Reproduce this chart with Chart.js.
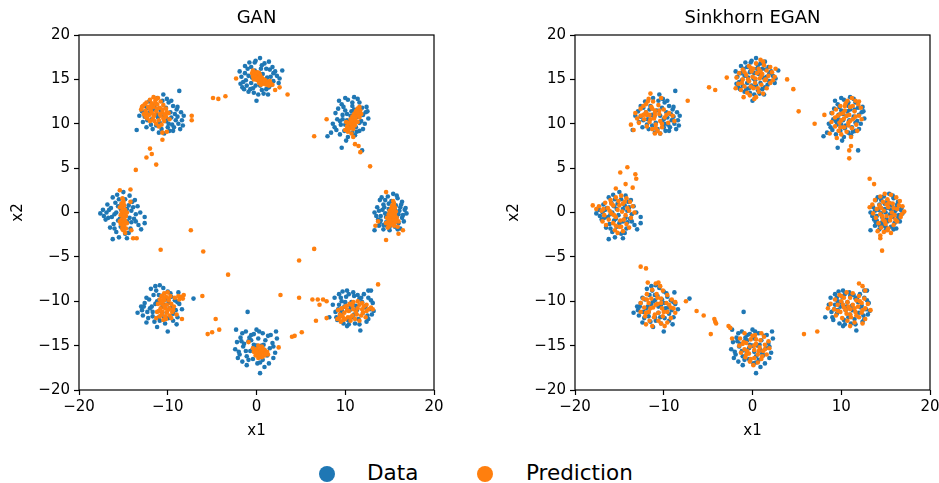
<!DOCTYPE html>
<html><head><meta charset="utf-8">
<script src="https://cdn.jsdelivr.net/npm/chart.js@4.4.1/dist/chart.umd.min.js"></script>
<style>
html,body{margin:0;padding:0;width:939px;height:483px;overflow:hidden;background:#fff;font-family:"DejaVu Sans",sans-serif;}
#c1{position:absolute;left:0;top:0;}
#c2{position:absolute;left:496px;top:0;}
.dot{position:absolute;width:16px;height:16px;border-radius:50%;}
.lt{position:absolute;top:458px;font-size:21.5px;color:#000;line-height:30px;white-space:nowrap;}
</style></head>
<body>
<canvas id="c1" width="470" height="450"></canvas>
<canvas id="c2" width="470" height="450"></canvas>
<div class="dot" style="left:319px;top:466px;background:#1f77b4"></div>
<div class="lt" style="left:367px">Data</div>
<div class="dot" style="left:477px;top:466px;background:#ff7f0e"></div>
<div class="lt" style="left:526px">Prediction</div>
<script>
const panelTitles = ['GAN', 'Sinkhorn EGAN'];
const seriesNames = ['Data', 'Prediction'];
const xTickValues = [-20, -10, 0, 10, 20];
const yTickValues = [-20, -15, -10, -5, 0, 5, 10, 15, 20];

// Real samples (same in both panels)
const dataXY = [
[0.4,17.4],[1.4,17.0],[0.9,16.8],[-0.2,16.9],[-0.6,16.4],[-1.0,16.2],[-1.3,15.7],[-1.7,15.3],[-1.5,14.7],[-1.1,14.3],[-0.7,13.9],[-0.3,13.5],[0.2,13.3],[0.0,12.6],[0.8,13.4],[1.1,13.9],[1.7,14.4],[1.9,14.8],[2.3,15.4],[2.9,16.0],[2.1,15.9],[1.5,16.1],[1.1,16.2],[0.5,16.2],[-0.3,15.8],[-1.2,14.9],[-1.6,14.1],[-0.9,13.6],[0.9,14.6],[0.3,14.9],[-0.5,15.2],[-0.1,14.3],[0.6,13.8],[1.6,15.3],[-1.9,15.9],[-0.8,16.9],[1.8,16.4],[0.2,15.7],[-1.4,13.9],[1.3,13.3],[2.5,14.6],
[-8.7,13.7],[-10.5,13.3],[-11.2,12.9],[-12.1,12.5],[-12.6,12.0],[-12.9,11.4],[-13.2,10.9],[-12.8,10.2],[-13.5,9.3],[-12.4,9.6],[-11.7,9.4],[-11.0,9.0],[-10.4,8.9],[-9.8,9.2],[-9.3,9.6],[-8.8,10.0],[-8.4,10.4],[-8.2,10.9],[-8.5,11.3],[-9.0,11.6],[-9.4,12.0],[-9.9,12.4],[-10.2,11.8],[-10.8,11.5],[-11.3,11.0],[-11.8,10.5],[-10.9,10.1],[-10.2,10.3],[-9.6,10.7],[-9.1,10.4],[-9.5,9.9],[-10.0,9.6],[-11.3,9.8],[-12.0,11.3],[-11.5,12.0],[-8.9,11.9],[-9.7,11.3],[-10.6,12.6],[-12.3,10.4],[-8.6,9.4],
[11.0,13.0],[10.3,12.7],[11.6,12.4],[9.6,12.2],[10.8,12.0],[11.9,11.8],[9.2,11.7],[10.0,11.5],[12.3,11.3],[8.9,11.2],[9.7,11.0],[10.6,10.9],[11.4,10.8],[12.6,10.6],[9.1,10.5],[10.2,10.4],[11.8,10.3],[8.6,10.0],[9.5,9.9],[10.5,9.8],[11.2,9.6],[12.0,9.4],[9.0,9.3],[9.9,9.2],[10.8,9.0],[8.0,8.6],[9.4,8.8],[10.3,8.5],[11.1,8.7],[9.6,7.3],[11.9,7.0],[10.1,8.1],[12.2,10.0],[11.5,11.6],[10.0,12.9],[8.4,9.0],[9.3,12.6],[12.4,11.9],[10.7,11.4],[11.3,9.1],
[15.4,2.1],[14.8,1.8],[15.9,1.6],[13.9,1.4],[15.2,1.3],[16.4,1.2],[14.3,0.9],[15.7,0.8],[13.6,0.6],[16.8,0.5],[14.9,0.4],[16.1,0.2],[13.3,0.0],[14.5,-0.1],[15.5,-0.2],[16.9,-0.1],[14.0,-0.4],[16.4,-0.6],[13.7,-0.8],[15.1,-0.7],[14.6,-1.1],[16.0,-1.2],[13.8,-1.5],[15.6,-1.6],[14.3,-1.9],[13.3,-2.0],[15.0,-2.0],[16.2,-1.8],[14.9,1.0],[16.6,-1.0],[14.2,0.3],[15.8,-0.5],[13.9,-1.1],[14.7,-1.5],[16.3,0.9],[15.3,0.5],[14.1,1.7],[15.9,-1.9],[13.5,-0.4],[16.7,0.3],
[-15.0,2.3],[-15.7,2.0],[-14.3,1.9],[-16.2,1.7],[-14.8,1.5],[-13.7,1.4],[-15.9,1.1],[-16.8,0.9],[-14.4,0.8],[-13.4,0.7],[-16.4,0.5],[-15.3,0.4],[-17.3,0.3],[-14.1,0.2],[-13.1,0.0],[-17.6,-0.1],[-16.0,-0.2],[-15.1,-0.3],[-12.6,-0.5],[-16.7,-0.6],[-13.8,-0.7],[-15.6,-0.9],[-14.6,-1.0],[-12.6,-1.2],[-16.1,-1.3],[-13.3,-1.4],[-15.3,-1.6],[-16.5,-1.7],[-14.2,-1.8],[-13.0,-1.9],[-15.8,-2.2],[-14.8,-2.4],[-16.2,-3.0],[-15.5,-2.8],[-16.9,0.0],[-14.0,1.2],[-15.4,-0.7],[-13.6,-0.2],[-17.0,-0.8],[-14.6,-2.9],
[-10.9,-8.2],[-10.5,-8.5],[-11.3,-8.8],[-10.0,-8.9],[-8.8,-9.0],[-11.6,-9.3],[-10.7,-9.4],[-9.6,-9.5],[-12.1,-9.8],[-11.0,-9.9],[-9.2,-9.9],[-7.1,-9.7],[-12.6,-10.2],[-11.4,-10.3],[-10.3,-10.4],[-8.7,-10.3],[-13.0,-10.6],[-12.0,-10.8],[-9.8,-10.8],[-8.4,-10.9],[-13.4,-11.3],[-11.7,-11.2],[-10.6,-11.3],[-9.4,-11.4],[-12.8,-11.6],[-12.2,-11.9],[-11.0,-11.8],[-9.9,-11.9],[-8.9,-11.8],[-12.4,-12.4],[-11.5,-12.3],[-10.3,-12.5],[-9.4,-12.2],[-11.2,-12.9],[-10.0,-13.4],[-12.9,-11.0],[-11.9,-8.6],[-9.0,-12.6],[-10.2,-9.8],[-11.8,-10.6],
[0.0,-13.2],[-2.3,-13.2],[-1.2,-13.4],[0.7,-13.6],[2.2,-13.4],[-0.6,-13.8],[1.3,-13.9],[-1.8,-14.1],[0.2,-14.2],[1.0,-14.4],[-2.2,-14.6],[-0.9,-14.5],[1.8,-14.7],[-0.3,-14.9],[0.6,-15.0],[-1.5,-15.1],[-2.4,-15.4],[1.5,-15.3],[-0.7,-15.6],[0.2,-15.7],[2.1,-15.8],[-1.9,-16.0],[-1.1,-16.2],[1.2,-16.1],[-0.4,-16.5],[0.7,-16.6],[-1.6,-16.8],[0.1,-17.0],[-1.1,-17.2],[1.4,-17.0],[0.4,-18.1],[-1.0,-11.2],[-0.3,-13.7],[1.9,-16.4],[-2.0,-15.7],[0.9,-15.5],[-0.8,-14.1],[1.6,-13.8],[-1.4,-14.8],[0.4,-16.9],
[9.7,-8.9],[10.2,-8.8],[10.9,-9.0],[12.6,-8.8],[12.9,-8.8],[9.3,-9.2],[11.4,-9.3],[12.1,-9.2],[8.8,-9.6],[10.1,-9.5],[11.6,-9.7],[12.6,-9.6],[9.6,-10.0],[10.7,-10.1],[13.1,-10.2],[8.6,-10.4],[9.9,-10.6],[11.2,-10.5],[12.3,-10.5],[9.2,-10.9],[10.5,-11.0],[12.8,-10.9],[13.2,-11.1],[8.2,-11.8],[9.5,-11.4],[11.0,-11.5],[12.0,-11.3],[9.0,-11.8],[10.3,-12.1],[11.5,-12.0],[12.6,-12.0],[9.8,-12.5],[10.2,-12.8],[11.1,-12.5],[12.4,-12.3],[11.7,-13.3],[9.1,-12.1],[12.9,-9.9],[10.4,-9.2],[11.9,-10.1]
];
const dataCoreXY = [
[0.1,15.1],[-0.6,14.6],[0.7,15.6],[-0.9,15.4],[1.2,15.2],[0.4,14.3],[-0.2,16.0],[1.9,15.7],[-1.3,16.5],[0.6,16.6],[-0.4,14.0],[1.4,14.1],[-1.8,14.5],[2.6,15.1],[-0.1,17.1],
[-10.4,10.9],[-11.1,10.7],[-9.9,10.0],[-10.7,9.4],[-12.6,10.8],[-11.9,9.9],[-9.2,11.1],[-10.1,12.8],[-8.9,10.8],[-9.4,9.2],[-11.6,11.6],[-12.3,11.8],[-10.0,10.5],[-9.6,12.6],[-8.3,9.8],
[10.2,11.1],[10.9,10.4],[9.7,10.5],[11.0,11.6],[10.4,9.5],[11.6,10.1],[9.4,10.3],[10.8,12.4],[12.0,11.0],[9.8,11.9],[8.8,9.6],[11.4,12.8],[10.0,9.9],[12.5,11.4],[11.6,9.2],
[15.0,0.0],[14.4,0.6],[15.6,0.3],[15.2,-1.0],[14.6,-0.5],[16.0,-0.2],[15.5,1.0],[14.0,-0.9],[15.8,1.9],[16.5,-0.3],[14.5,1.4],[13.8,0.2],[15.0,-1.6],[16.2,0.6],[14.3,-1.4],
[-15.2,1.0],[-14.6,0.4],[-15.8,0.0],[-14.3,-0.6],[-16.3,-0.5],[-15.0,-1.2],[-14.1,-1.1],[-16.6,0.3],[-15.5,1.5],[-13.9,0.6],[-16.0,-1.8],[-14.4,-2.3],[-13.6,-1.0],[-17.2,-0.4],[-15.6,0.7],
[-10.6,-10.6],[-11.2,-10.0],[-9.9,-10.2],[-10.4,-11.8],[-11.7,-11.7],[-9.5,-10.7],[-12.4,-9.6],[-11.0,-9.3],[-9.1,-11.0],[-12.3,-11.2],[-10.9,-12.2],[-9.7,-9.1],[-12.7,-10.6],[-11.4,-8.3],[-8.9,-10.1],
[0.0,-15.0],[-0.6,-14.4],[0.8,-14.9],[-1.2,-15.6],[0.4,-16.2],[1.1,-15.9],[-0.4,-15.3],[-1.7,-14.5],[1.9,-15.1],[-0.9,-16.6],[0.9,-17.4],[-1.6,-13.6],[0.3,-13.4],[2.3,-14.2],[-2.1,-16.4],
[10.6,-10.6],[11.3,-11.0],[10.0,-10.1],[9.6,-11.0],[11.8,-9.6],[12.2,-10.7],[10.8,-11.8],[9.3,-10.4],[11.0,-9.4],[12.5,-11.6],[10.4,-12.6],[8.9,-11.2],[11.6,-12.6],[9.5,-9.6],[13.0,-11.5]
];

// GAN generator samples
const ganXY = [
[-0.4,16.0],[-0.2,15.8],[0.0,15.6],[0.2,15.5],[0.4,15.3],[0.6,15.2],[0.8,15.0],[1.0,14.9],[1.3,14.7],[1.6,14.5],[1.8,14.4],[-0.3,15.5],[-0.1,15.2],[0.1,14.9],[0.3,14.6],[0.5,14.4],[0.8,14.5],[1.1,14.4],[1.4,14.3],[0.2,15.0],[0.5,14.8],[0.7,14.7],[0.0,15.3],[-0.3,15.0],[0.9,14.6],[1.5,14.8],[-0.5,15.7],[0.3,15.7],
[-2.3,15.1],[2.1,13.8],[2.6,14.1],[3.5,13.3],
[-11.6,13.0],[-11.1,12.9],[-12.0,12.7],[-11.4,12.6],[-10.8,12.5],[-12.4,12.4],[-11.8,12.3],[-11.2,12.2],[-10.5,12.1],[-12.8,12.0],[-12.2,11.9],[-11.6,11.9],[-10.9,11.8],[-10.2,11.7],[-13.0,11.6],[-12.5,11.5],[-11.9,11.5],[-11.3,11.4],[-10.6,11.3],[-9.9,11.2],[-12.7,11.1],[-12.1,11.0],[-11.5,11.0],[-10.8,10.9],[-10.2,10.8],[-12.3,10.6],[-11.7,10.5],[-11.0,10.4],[-10.4,10.3],[-9.8,10.5],[-11.3,10.0],[-10.7,9.9],[-11.0,9.7],[-12.9,11.9],[-11.9,12.0],[-10.1,11.3],
[-7.3,10.9],[-7.3,10.4],[-10.6,9.0],[-10.1,9.1],[-10.6,8.2],[-12.0,7.2],[-11.8,6.6],[-12.4,6.2],[-11.3,5.4],[-13.6,4.8],[-4.9,12.9],[-4.3,12.8],[-3.5,13.1],
[11.6,11.9],[11.4,11.7],[11.7,11.5],[11.2,11.4],[11.5,11.2],[11.0,11.1],[11.3,10.9],[10.8,10.8],[11.6,10.7],[11.1,10.6],[10.6,10.5],[10.9,10.3],[11.4,10.2],[10.4,10.1],[10.7,9.9],[11.1,9.8],[10.2,9.7],[10.5,9.5],[10.9,9.4],[10.0,9.3],[10.3,9.1],[10.7,8.9],[11.8,11.1],[10.1,10.2],
[7.9,10.5],[6.5,8.6],[10.9,8.5],[11.1,7.7],[11.5,7.5],[11.7,6.8],[12.8,5.2],
[15.4,1.3],[15.5,1.0],[15.3,0.8],[15.6,0.6],[15.2,0.5],[15.5,0.3],[15.0,0.2],[15.7,0.1],[15.3,-0.1],[14.9,-0.2],[15.6,-0.3],[15.1,-0.5],[14.7,-0.6],[15.8,-0.6],[15.4,-0.8],[14.9,-0.9],[15.6,-1.1],[15.2,-1.2],[14.6,-1.2],[16.0,-1.0],[15.0,-1.5],[15.5,-1.5],[14.8,-1.7],[15.9,-1.6],
[14.6,2.3],[13.7,-1.0],[13.4,-1.5],[14.6,-3.1],[16.0,-2.4],[16.5,-2.0],
[-15.1,1.6],[-15.0,1.3],[-15.2,1.0],[-14.9,0.8],[-15.1,0.5],[-14.8,0.3],[-15.2,0.1],[-14.9,-0.1],[-15.3,-0.3],[-14.7,-0.4],[-15.0,-0.6],[-15.2,-0.8],[-14.8,-0.9],[-15.1,-1.1],[-14.6,-1.2],[-15.3,-1.3],[-14.9,-1.5],[-15.1,-1.7],[-14.7,-1.8],[-15.0,-2.0],[-14.8,-2.3],[-15.4,0.6],[-14.6,0.0],[-15.4,-1.0],
[-15.4,2.5],[-14.2,2.6],[-14.2,1.2],[-14.1,-2.0],[-13.9,-2.9],[-13.5,-2.9],
[-7.4,-2.0],[-10.8,-4.2],[-6.0,-4.4],[-3.2,-7.0],[4.8,-5.4],[6.5,-4.1],[2.7,-9.3],[4.8,-9.6],[6.3,-9.8],[6.9,-9.8],[7.5,-9.8],[7.9,-10.0],[7.1,-10.4],[6.7,-12.2],[7.9,-11.9],[13.7,-8.1],[-6.1,-9.4],[-4.6,-12.0],[-5.5,-13.7],[-5.0,-13.5],[-4.2,-13.2],[-0.9,-14.6],[2.5,-15.2],[4.0,-14.0],[4.3,-13.9],[5.1,-13.5],
[-10.4,-9.1],[-10.0,-9.0],[-10.7,-9.4],[-10.2,-9.5],[-9.7,-9.4],[-10.9,-9.8],[-10.4,-9.9],[-9.9,-9.9],[-11.1,-10.3],[-10.6,-10.3],[-10.1,-10.4],[-9.6,-10.3],[-10.8,-10.8],[-10.3,-10.8],[-9.8,-10.8],[-9.3,-10.6],[-11.2,-11.2],[-10.6,-11.2],[-10.1,-11.3],[-9.5,-11.2],[-10.9,-11.7],[-10.3,-11.7],[-9.8,-11.6],[-11.3,-11.9],[-10.5,-12.1],[-9.6,-11.9],[-9.0,-11.5],[-9.2,-9.6],[-8.8,-9.4],[-8.5,-9.5],[-8.2,-9.3],[-8.7,-9.8],[-8.3,-9.7],[-8.4,-12.0],
[0.2,-15.0],[0.6,-15.1],[0.0,-15.4],[0.4,-15.4],[0.9,-15.5],[-0.3,-15.7],[0.2,-15.8],[0.7,-15.8],[1.2,-15.7],[-0.1,-16.1],[0.4,-16.1],[0.9,-16.1],[0.2,-16.4],[0.6,-16.3],[1.3,-16.0],[-0.4,-15.3],
[9.2,-11.0],[9.6,-10.8],[10.0,-10.6],[10.5,-10.3],[10.9,-10.1],[11.4,-10.0],[11.9,-10.2],[12.4,-10.4],[12.9,-10.7],[9.4,-11.5],[9.9,-11.3],[10.4,-11.1],[10.9,-10.9],[11.4,-10.8],[11.9,-10.9],[12.4,-11.1],[9.3,-11.9],[9.8,-12.1],[10.3,-11.8],[10.8,-11.6],[11.3,-11.5],[11.8,-11.6],[12.3,-11.8],[9.5,-12.3],[10.6,-12.2],[11.1,-12.0],[11.6,-12.2],[9.1,-12.0],[13.1,-10.9],[10.2,-10.5]
];
const ganCoreXY = [
[0.0,15.0],[0.3,15.2],[0.6,14.9],[1.1,14.6],[0.4,15.5],[-0.2,15.4],[0.9,14.8],[1.2,14.5],[0.1,15.8],[-0.4,15.3],
[-11.4,12.3],[-12.0,11.7],[-11.2,11.7],[-10.6,11.6],[-12.4,11.2],[-11.6,10.8],[-10.5,10.6],[-12.0,10.3],[-11.3,12.8],[-12.6,12.2],[-10.9,11.1],[-11.8,11.2],[-10.3,11.0],[-11.5,10.3],[-12.5,10.8],
[11.3,11.5],[10.9,10.8],[11.2,10.3],[10.6,10.0],[10.4,9.4],[11.5,11.0],[10.8,9.6],[11.0,10.0],[10.7,10.4],[11.4,11.3],
[15.3,0.3],[15.4,-0.4],[15.0,-0.9],[15.4,-1.3],[15.2,-0.2],[15.5,0.6],[14.9,-1.3],[15.7,-0.9],
[-15.0,1.1],[-15.0,0.2],[-15.0,-0.4],[-14.9,-1.2],[-15.1,-1.9],[-15.2,0.7],[-14.9,-0.8],[-15.1,-1.4],
[-10.5,-9.6],[-10.8,-10.2],[-10.4,-10.5],[-10.0,-11.0],[-10.7,-11.5],[-9.9,-9.7],[-10.2,-12.0],[-11.0,-11.1],[-9.4,-11.0],[-10.6,-10.0],
[0.5,-15.7],[0.8,-15.4],[0.3,-16.0],[1.0,-15.9],[0.0,-15.7],
[10.2,-11.0],[10.8,-10.5],[11.6,-10.4],[12.1,-10.6],[10.6,-11.8],[11.2,-11.2],[12.0,-11.3],[9.7,-11.7],[10.0,-12.0],[12.6,-10.9]
];

// Sinkhorn EGAN generator samples
const sinkhornXY = [
[0.9,17.2],[0.4,16.8],[1.3,16.6],[-0.4,16.5],[2.0,16.4],[2.6,16.2],[0.7,16.2],[-1.1,16.1],[1.6,16.0],[-0.1,15.9],[2.2,15.8],[-1.5,15.7],[0.5,15.7],[1.1,15.6],[-0.7,15.5],[1.8,15.4],[0.0,15.3],[-1.8,15.2],[2.5,15.3],[0.8,15.1],[-1.1,15.0],[1.4,14.9],[-0.4,14.8],[0.3,14.6],[2.0,14.6],[-1.6,14.5],[1.0,14.4],[-0.9,14.2],[-1.9,14.0],[0.1,14.0],[1.6,14.0],[-1.3,13.8],[0.7,13.6],[-0.6,13.5],[-0.3,13.2],[0.4,13.0],[-1.0,13.0],[0.2,12.8],[1.2,13.4],[2.3,14.9],[-0.2,16.3],[1.2,17.0],
[-2.9,15.2],[-4.9,14.1],[-4.2,13.8],[-7.3,12.6],[3.9,15.0],[4.6,13.9],[5.2,11.4],[7.0,10.0],[8.1,11.0],
[-11.5,13.4],[-11.7,12.8],[-11.2,12.5],[-12.0,12.2],[-10.6,12.1],[-11.4,11.9],[-12.6,11.7],[-10.0,11.6],[-11.0,11.5],[-12.0,11.3],[-13.2,11.2],[-9.4,11.2],[-10.5,11.1],[-11.6,11.0],[-12.6,10.9],[-13.0,10.6],[-9.0,10.9],[-9.9,10.7],[-11.1,10.6],[-12.2,10.5],[-10.4,10.3],[-11.6,10.2],[-9.5,10.1],[-12.8,10.1],[-10.9,9.9],[-11.9,9.7],[-10.2,9.6],[-11.3,9.4],[-10.7,9.2],[-11.0,8.9],[-10.4,8.9],[-8.8,10.3],[-12.3,12.0],[-10.3,12.9],[-11.0,11.2],
[-13.4,9.3],[-13.7,9.9],
[11.2,12.9],[11.6,12.6],[10.5,12.3],[11.9,12.2],[9.9,12.0],[11.0,11.9],[12.2,11.8],[9.4,11.6],[10.4,11.5],[11.5,11.4],[9.0,11.2],[9.9,11.1],[10.9,11.0],[12.0,10.9],[9.3,10.7],[10.3,10.6],[11.3,10.5],[12.3,10.5],[8.9,10.2],[9.8,10.1],[10.8,10.1],[11.7,9.9],[9.3,9.7],[10.3,9.6],[11.2,9.5],[9.7,9.2],[10.6,9.1],[10.0,8.8],[8.7,8.9],[11.8,9.2],[12.0,12.5],[10.7,12.6],
[11.1,8.5],[11.1,7.5],[10.9,7.0],[10.9,6.1],[9.5,8.4],
[14.9,2.1],[15.6,2.0],[14.4,1.8],[16.2,1.7],[15.2,1.5],[13.8,1.4],[16.6,1.3],[14.7,1.2],[15.8,1.0],[13.5,0.9],[14.3,0.8],[16.9,0.7],[15.3,0.6],[14.0,0.4],[16.3,0.4],[14.8,0.2],[17.1,0.1],[15.7,0.0],[13.6,-0.1],[14.4,-0.2],[16.0,-0.3],[15.1,-0.4],[16.7,-0.5],[13.9,-0.6],[14.7,-0.8],[15.5,-0.9],[16.3,-1.0],[14.2,-1.2],[15.0,-1.3],[15.9,-1.4],[14.5,-1.7],[15.3,-1.8],[14.1,-2.1],[14.8,-2.2],[15.6,-2.3],[14.4,-2.6],[16.8,-0.2],[13.2,0.6],
[13.2,3.8],[13.7,3.2],[14.4,-2.9],[14.6,-4.3],
[-14.8,1.9],[-15.4,1.7],[-14.2,1.6],[-16.0,1.4],[-15.1,1.3],[-13.8,1.2],[-16.6,1.1],[-14.6,1.0],[-15.7,0.8],[-17.3,0.7],[-13.5,0.7],[-14.1,0.5],[-16.3,0.5],[-15.2,0.3],[-17.0,0.2],[-14.7,0.1],[-13.3,0.0],[-15.9,-0.1],[-16.7,-0.3],[-14.3,-0.3],[-15.4,-0.5],[-13.7,-0.6],[-16.2,-0.8],[-14.9,-0.9],[-15.7,-1.2],[-14.2,-1.3],[-16.5,-1.4],[-15.0,-1.6],[-13.9,-1.7],[-15.5,-2.0],[-14.6,-2.1],[-15.2,-2.3],[-17.6,0.4],[-16.9,-1.0],
[-18.0,0.8],[-14.1,5.1],[-14.9,4.5],[-13.2,4.3],[-13.1,3.8],[-14.3,3.2],[-13.5,2.8],[-15.4,2.7],
[-10.9,-8.0],[-10.4,-8.3],[-11.3,-8.7],[-10.1,-8.8],[-11.9,-9.2],[-10.8,-9.2],[-9.6,-9.3],[-12.3,-9.7],[-11.4,-9.7],[-10.3,-9.7],[-9.1,-9.8],[-12.6,-10.2],[-11.7,-10.2],[-10.7,-10.3],[-9.7,-10.2],[-8.7,-10.1],[-12.2,-10.7],[-11.2,-10.7],[-10.2,-10.8],[-9.2,-10.7],[-12.6,-11.2],[-11.7,-11.2],[-10.6,-11.3],[-9.6,-11.2],[-8.7,-11.3],[-12.1,-11.7],[-11.1,-11.8],[-10.1,-11.7],[-9.2,-11.9],[-11.6,-12.2],[-10.6,-12.2],[-9.6,-12.4],[-12.0,-12.6],[-11.3,-12.8],[-9.9,-12.8],[-8.9,-10.8],
[-12.6,-6.1],[-12.0,-6.3],[-11.8,-7.9],[-10.6,-7.9],[-7.5,-10.0],[-6.3,-11.1],[-5.5,-11.6],[-4.3,-12.0],[-4.2,-12.3],[-4.1,-12.5],[-4.7,-13.7],[-2.7,-12.8],[-2.5,-13.0],[-2.3,-14.2],
[-0.9,-13.6],[0.3,-13.8],[1.3,-14.0],[-1.4,-14.2],[-0.2,-14.3],[0.9,-14.4],[1.8,-14.5],[-0.7,-14.7],[0.4,-14.8],[1.4,-14.9],[-1.5,-15.0],[-0.3,-15.1],[0.8,-15.2],[1.9,-15.3],[-0.9,-15.4],[0.2,-15.5],[1.2,-15.6],[-1.3,-15.8],[-0.4,-15.9],[0.6,-16.0],[1.6,-16.0],[-0.8,-16.3],[0.2,-16.4],[1.0,-16.5],[-0.3,-16.8],[0.6,-16.9],[0.1,-17.2],[-1.1,-14.8],[1.0,-13.6],
[10.6,-9.0],[11.3,-9.1],[9.8,-9.3],[12.0,-9.4],[10.3,-9.6],[11.0,-9.6],[12.6,-9.7],[9.3,-9.8],[11.7,-9.9],[10.0,-10.0],[10.7,-10.1],[12.3,-10.2],[13.0,-10.3],[8.8,-10.3],[9.6,-10.4],[11.3,-10.4],[11.9,-10.6],[10.3,-10.7],[8.5,-10.8],[12.7,-10.8],[9.2,-10.9],[11.0,-10.9],[13.3,-11.0],[9.9,-11.2],[11.6,-11.2],[12.3,-11.3],[10.6,-11.4],[9.4,-11.6],[11.1,-11.8],[12.0,-11.8],[10.1,-11.9],[12.7,-12.0],[10.7,-12.2],[11.5,-12.4],[12.4,-12.5],[11.0,-12.8],
[12.0,-8.0],[12.4,-8.3],[12.7,-8.8],[5.8,-13.7],[7.3,-13.4]
];
const sinkhornCoreXY = [
[0.3,15.1],[-0.5,15.0],[1.0,15.4],[-0.2,14.2],[0.6,14.0],[1.5,15.0],[-1.2,14.6],[0.1,16.2],[0.9,15.9],[-0.9,15.8],
[-11.0,10.9],[-11.5,10.5],[-10.5,11.5],[-11.9,11.0],[-10.2,10.0],[-11.3,11.7],[-10.9,9.5],[-12.3,11.0],[-9.7,11.0],[-11.8,12.5],
[10.6,10.9],[11.0,10.3],[10.0,10.4],[11.6,10.8],[10.2,11.2],[10.8,9.8],[9.6,10.9],[11.3,12.0],[10.4,12.0],[9.9,9.6],
[15.1,0.9],[15.6,-0.5],[14.6,-0.4],[15.9,0.5],[14.9,-1.0],[15.4,1.1],[16.1,-0.8],[14.5,0.5],[15.2,-2.0],[16.5,0.8],
[-15.0,0.8],[-15.6,-0.3],[-14.5,-0.8],[-16.1,0.2],[-14.4,1.2],[-15.4,-1.5],[-16.8,0.4],[-13.9,0.2],[-15.9,1.0],[-14.8,-1.6],
[-10.9,-10.4],[-11.5,-10.8],[-10.3,-10.2],[-11.0,-11.5],[-10.0,-11.2],[-11.9,-9.8],[-10.7,-9.6],[-9.4,-10.4],[-12.0,-11.3],[-10.3,-12.5],
[0.2,-15.0],[0.7,-15.6],[-0.6,-15.6],[0.4,-14.3],[1.4,-15.4],[-0.2,-16.5],[-1.0,-14.6],[1.1,-16.2],[0.0,-13.9],[-0.7,-16.0],
[10.8,-10.6],[11.5,-10.8],[10.2,-10.4],[11.0,-11.5],[10.5,-11.0],[12.1,-10.0],[9.6,-11.1],[11.7,-11.6],[12.4,-11.0],[10.0,-9.4]
];

const colors = ['#1f77b4', '#ff7f0e'];

Chart.defaults.font.family = '"DejaVu Sans", sans-serif';
Chart.defaults.color = '#000';

const framePlugin = {
  id: 'frame',
  afterDatasetsDraw(chart) {
    const a = chart.chartArea, ctx = chart.ctx;
    ctx.save();
    ctx.strokeStyle = '#000';
    ctx.lineWidth = 1.2;
    ctx.strokeRect(a.left, a.top, a.right - a.left, a.bottom - a.top);
    ctx.restore();
  }
};

const fmt = v => (v < 0 ? '\u2212' + Math.abs(v) : String(v));

function makeChart(id, title, predXY) {
  const toPts = arr => arr.map(p => ({x: p[0], y: p[1]}));
  return new Chart(document.getElementById(id), {
    type: 'scatter',
    data: {
      datasets: [
        {label: seriesNames[0], data: toPts(dataXY.concat(dataCoreXY)), backgroundColor: colors[0], pointRadius: 2.3, pointHoverRadius: 2.3, borderWidth: 0, order: 2},
        {label: seriesNames[1], data: toPts(predXY), backgroundColor: colors[1], pointRadius: 2.3, pointHoverRadius: 2.3, borderWidth: 0, order: 1}
      ]
    },
    options: {
      responsive: false,
      animation: false,
      events: [],
      layout: {padding: {left: 0, right: 36, top: 0, bottom: 0}},
      plugins: {
        legend: {display: false},
        tooltip: {enabled: false},
        title: {display: true, text: title, fullSize: false, color: '#000',
                font: {size: 18, weight: 'normal'}, padding: {top: 8, bottom: 5.4}}
      },
      scales: {
        x: {
          type: 'linear', min: -20, max: 20,
          afterBuildTicks: s => { s.ticks = xTickValues.map(v => ({value: v})); },
          afterFit: s => { s.height = 60; },
          grid: {drawOnChartArea: false, drawTicks: true, tickLength: 5, tickColor: '#000', tickWidth: 1.2},
          border: {display: false},
          ticks: {callback: fmt, font: {size: 15}, padding: 3, maxRotation: 0, color: '#000'},
          title: {display: true, text: 'x1', font: {size: 15}, padding: {top: 0, bottom: 10}, color: '#000'}
        },
        y: {
          type: 'linear', min: -20, max: 20,
          afterBuildTicks: s => { s.ticks = yTickValues.map(v => ({value: v})); },
          afterFit: s => { s.width = 79; },
          grid: {drawOnChartArea: false, drawTicks: true, tickLength: 5, tickColor: '#000', tickWidth: 1.2},
          border: {display: false},
          ticks: {callback: fmt, font: {size: 15}, padding: 4, color: '#000'},
          title: {display: true, text: 'x2', font: {size: 15}, padding: {top: 9, bottom: 0}, color: '#000'}
        }
      }
    },
    plugins: [framePlugin]
  });
}

makeChart('c1', panelTitles[0], ganXY.concat(ganCoreXY));
makeChart('c2', panelTitles[1], sinkhornXY.concat(sinkhornCoreXY));
</script>
</body></html>
